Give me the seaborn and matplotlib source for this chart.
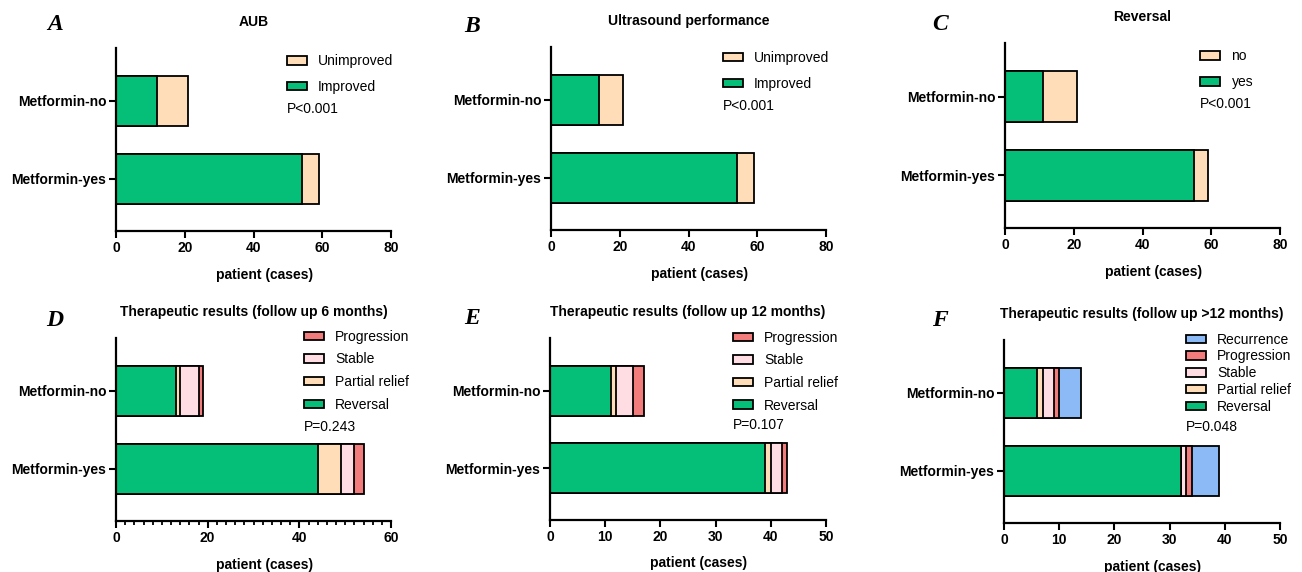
import numpy as np
import matplotlib
matplotlib.use("Agg")
import matplotlib.pyplot as plt
from matplotlib.ticker import MultipleLocator
import seaborn as sns

groups = ["Metformin-no", "Metformin-yes"]

# A: AUB
aub_improved = [12, 54]
aub_unimproved = [9, 5]
# B: Ultrasound performance
us_improved = [14, 54]
us_unimproved = [7, 5]
# C: Reversal
rev_yes = [11, 55]
rev_no = [10, 4]
# D: follow up 6 months
m6_reversal = [13, 44]
m6_partial = [1, 5]
m6_stable = [4, 3]
m6_progression = [1, 2]
# E: follow up 12 months
m12_reversal = [11, 39]
m12_partial = [1, 1]
m12_stable = [3, 2]
m12_progression = [2, 1]
# F: follow up >12 months
m12p_reversal = [6, 32]
m12p_partial = [1, 0]
m12p_stable = [2, 1]
m12p_progression = [1, 1]
m12p_recurrence = [4, 5]

GREEN = "#05be78"
PEACH = "#ffddb8"
PINK = "#ffdde3"
RED = "#f27c7c"
BLUE = "#8cbaf6"

sns.set_style("ticks")
plt.rcParams['font.family'] = ['Liberation Sans', 'DejaVu Sans']
for k in ['text.color', 'axes.labelcolor', 'xtick.color', 'ytick.color', 'axes.edgecolor']:
    plt.rcParams[k] = 'black'

W, H = 1302, 572
fig = plt.figure(figsize=(W / 100, H / 100), dpi=100)


def make_axes(left, right, top, bottom):
    return fig.add_axes([left / W, 1 - bottom / H, (right - left) / W, (bottom - top) / H])


def draw_panel(ax, segments, title, xmax, xstep, legend_xy, spacing, pval, pval_xy, minor=None):
    cum = np.zeros(len(groups))
    cums = []
    for label, vals, color in segments:
        cum = cum + np.array(vals)
        cums.append((label, cum.copy(), color))
    # draw largest cumulative first so smaller stacks sit on top
    for label, c, color in reversed(cums):
        sns.barplot(x=c, y=groups, color=color, saturation=1, edgecolor="black",
                    linewidth=1.3, width=0.645, label=label, ax=ax, orient="h")
    ax.set_ylim(1.67, -0.68)
    ax.set_xlim(0, xmax)
    ax.xaxis.set_major_locator(MultipleLocator(xstep))
    if minor:
        ax.xaxis.set_minor_locator(MultipleLocator(minor))
        ax.tick_params(axis="x", which="minor", length=3, width=1.3)
    sns.despine(ax=ax)
    for s in ["left", "bottom"]:
        ax.spines[s].set_linewidth(1.6)
    ax.tick_params(axis="both", which="major", length=5, width=1.5, labelsize=10, pad=2)
    for t in ax.get_xticklabels() + ax.get_yticklabels():
        t.set_fontweight("bold")
    ax.set_ylabel("")
    ax.set_xlabel("patient (cases)", fontsize=10, fontweight="bold")
    ax.xaxis.set_label_coords(0.54, -0.2)
    ax.set_title(title, fontsize=10, fontweight="bold", pad=16)
    ax.legend(loc="upper left", bbox_to_anchor=legend_xy, frameon=False, fontsize=10,
              handlelength=1.45, handleheight=0.55, handletextpad=0.8,
              labelspacing=spacing, borderpad=0, borderaxespad=0)
    ax.text(pval_xy[0], pval_xy[1], pval, transform=ax.transAxes, fontsize=10,
            ha="left", va="center")


axA = make_axes(116, 391, 48, 231)
draw_panel(axA, [("Improved", aub_improved, GREEN), ("Unimproved", aub_unimproved, PEACH)],
           "AUB", 80, 20, (0.62, 0.965), 0.85, "P<0.001", (0.62, 0.667))

axB = make_axes(551, 826, 47, 230)
draw_panel(axB, [("Improved", us_improved, GREEN), ("Unimproved", us_unimproved, PEACH)],
           "Ultrasound performance", 80, 20, (0.625, 0.98), 0.9, "P<0.001", (0.625, 0.678))

axC = make_axes(1005, 1280, 43, 228)
draw_panel(axC, [("yes", rev_yes, GREEN), ("no", rev_no, PEACH)],
           "Reversal", 80, 20, (0.71, 0.965), 0.85, "P<0.001", (0.71, 0.67))

axD = make_axes(116, 391, 338, 521)
draw_panel(axD, [("Reversal", m6_reversal, GREEN), ("Partial relief", m6_partial, PEACH),
                 ("Stable", m6_stable, PINK), ("Progression", m6_progression, RED)],
           "Therapeutic results (follow up 6 months)", 60, 20, (0.684, 1.045), 0.62,
           "P=0.243", (0.684, 0.514), minor=2)

axE = make_axes(550, 826, 338, 520)
draw_panel(axE, [("Reversal", m12_reversal, GREEN), ("Partial relief", m12_partial, PEACH),
                 ("Stable", m12_stable, PINK), ("Progression", m12_progression, RED)],
           "Therapeutic results (follow up 12 months)", 50, 10, (0.663, 1.04), 0.62,
           "P=0.107", (0.663, 0.52))

axF = make_axes(1004, 1280, 340, 523)
draw_panel(axF, [("Reversal", m12p_reversal, GREEN), ("Partial relief", m12p_partial, PEACH),
                 ("Stable", m12p_stable, PINK), ("Progression", m12p_progression, RED),
                 ("Recurrence", m12p_recurrence, BLUE)],
           "Therapeutic results (follow up >12 months)", 50, 10, (0.658, 1.04), 0.2,
           "P=0.048", (0.658, 0.525))

letters = [("A", 55, 25), ("B", 472, 27), ("C", 940, 25),
           ("D", 55, 320), ("E", 472, 318), ("F", 940, 320)]
for letter, x, y in letters:
    fig.text(x / W, 1 - y / H, letter, fontsize=17, fontweight="bold", fontstyle="italic",
             family=["Liberation Serif", "DejaVu Serif"], ha="center", va="center")

fig.savefig("out.png", dpi=100)
